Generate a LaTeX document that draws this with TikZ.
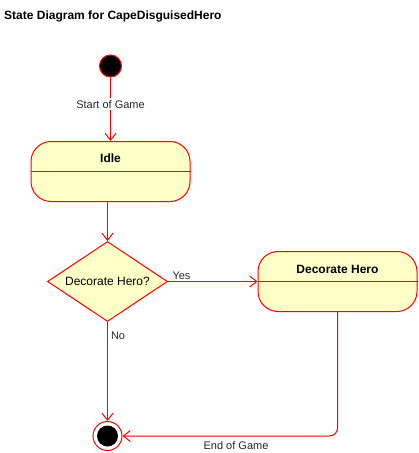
\documentclass[tikz,border=0pt]{standalone}
\usepackage{fontspec}
\setmainfont{Liberation Sans}
\usetikzlibrary{arrows.meta,shapes.geometric}
\definecolor{stfill}{HTML}{FFFFC8}
\definecolor{stline}{HTML}{FF0000}
\tikzset{
  statebox/.style={draw=stline, fill=stfill, rounded corners=20pt, minimum width=159pt, minimum height=60pt, inner sep=0pt, line width=1pt},
  statename/.style={font=\bfseries\fontsize{12}{14}\selectfont, inner sep=0pt},
  decision/.style={diamond, draw=stline, fill=stfill, minimum width=120pt, minimum height=80pt, inner sep=0pt, aspect=1.5, line width=1pt, font=\fontsize{12}{14}\selectfont},
  arr/.style={draw=stline, line width=1pt, -{Straight Barb[length=7pt,width=11pt]}},
  lbl/.style={font=\fontsize{11}{13}\selectfont, text=black!85, inner sep=1pt},
  initstate/.style={circle, draw=stline, fill=black, minimum size=22pt, inner sep=0pt, line width=1pt},
  finalstate/.style={circle, draw=stline, fill=white, minimum size=29pt, inner sep=0pt, line width=1pt,
    path picture={\fill[black] (path picture bounding box.center) circle (10.5pt);}}
}
\begin{document}
\begin{tikzpicture}[x=1pt,y=-1pt]
\useasboundingbox (0,0) rectangle (419,453);
\node[anchor=west, font=\bfseries\fontsize{12}{14}\selectfont, inner sep=0pt] (title) at (4,16) {State Diagram for CapeDisguisedHero};

\node[initstate] (start) at (110.5,66) {};
\node[statebox] (idle) at (110.5,171.5) {};
\draw[stline, line width=1pt] (idle.west) -- (idle.east);
\node[statename] (idlename) at (110.5,158) {Idle};

\node[decision] (dec) at (107.5,281.5) {Decorate Hero?};

\node[statebox] (dh) at (337.5,281.5) {};
\draw[stline, line width=1pt] (dh.west) -- (dh.east);
\node[statename] (dhname) at (337.5,269) {Decorate Hero};

\node[finalstate] (final) at (107.5,436) {};

\draw[arr] (start) -- (idle.north) node[lbl, pos=0.42, fill=white, inner sep=2pt] (lstart) {Start of Game};
\draw[arr] (idle.south -| dec.north) -- (dec.north);
\draw[arr] (dec.east) -- (dh.west) node[lbl, pos=0.0, anchor=south west, xshift=3pt, yshift=0pt] (lyes) {Yes};
\draw[arr] (dec.south) -- (final.north) node[lbl, pos=0.0, anchor=north west, xshift=2pt, yshift=-8.5pt] (lno) {No};
\draw[arr, rounded corners=8pt] (dh.south) -- (dh.south |- final.east) -- (final.east);
\node[lbl] (lend) at (236,446) {End of Game};
\end{tikzpicture}
\end{document}
